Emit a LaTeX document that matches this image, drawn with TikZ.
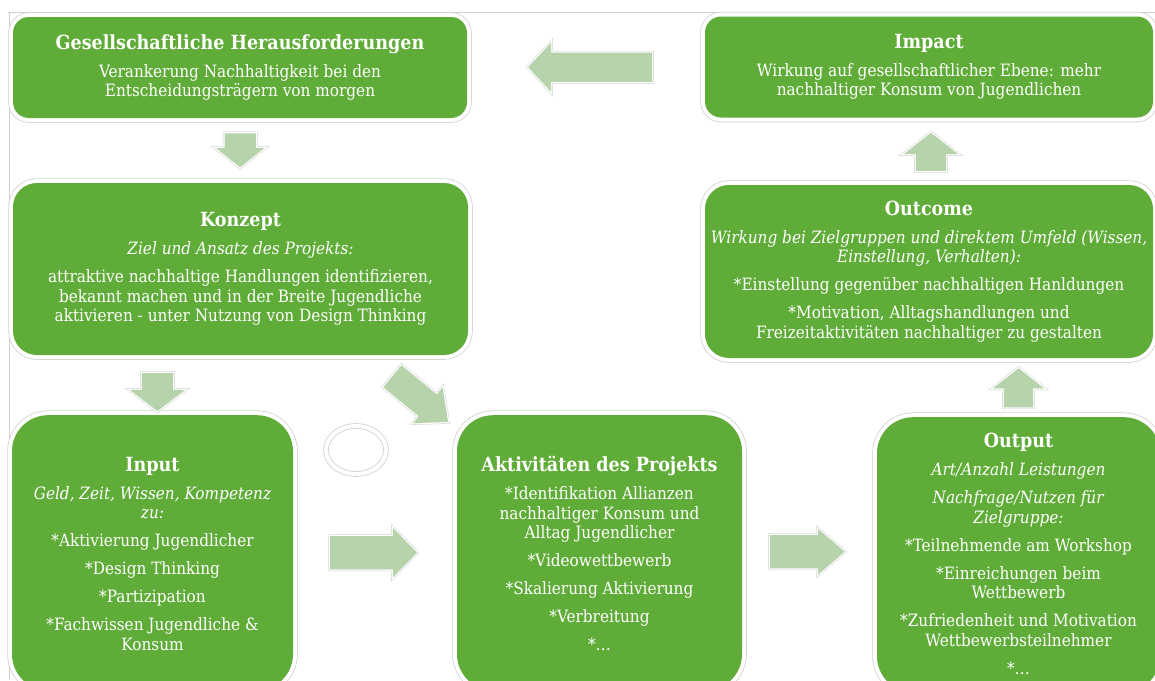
\documentclass[tikz,border=0pt]{standalone}
\usepackage{fontspec}
\setmainfont{DejaVu Serif Condensed}
\usetikzlibrary{positioning,calc,shapes.arrows,shapes.geometric}

\definecolor{boxgreen}{RGB}{96,172,56}
\definecolor{arrowgreen}{RGB}{182,211,171}
\definecolor{framegray}{RGB}{208,208,208}

\newcommand{\bodyfont}{\fontsize{17}{19.5}\selectfont}
\newcommand{\boxtitle}[1]{{\fontsize{19.5}{19.5}\selectfont\bfseries #1}}

\begin{document}
\begin{tikzpicture}[x=1pt, y=-1pt,
	box/.style={rectangle, rounded corners=#1, fill=boxgreen, text=white, align=center,
		inner sep=0pt, font=\bodyfont,
		preaction={draw=framegray, line width=9.5},
		preaction={draw=white, line width=8}},
	box/.default=16,
	txt/.style={text=white, align=center, inner sep=0pt, font=\bodyfont, anchor=north},
	flow/.style={single arrow, fill=arrowgreen, inner xsep=0pt, minimum width=0pt,
		preaction={draw=framegray, line width=3.5},
		preaction={draw=white, line width=2.5}}]

	\fill[white] (0,0) rectangle (1155,680);
	\clip (0,0) rectangle (1155,680);

	% thin frame top and left
	\draw[framegray, line width=0.8] (8,12) -- (1155,12);
	\draw[framegray, line width=0.8] (9,12) -- (9,680);

	% top row
	\node[box, minimum width=454, minimum height=101] (g) at (240,67.5)
		{\boxtitle{Gesellschaftliche Herausforderungen}\\[8.5pt]
		 Verankerung Nachhaltigkeit bei den\\
		 Entscheidungsträgern von morgen};
	\node[box, minimum width=448, minimum height=101] (im) at (929,67)
		{\boxtitle{Impact}\\[8.5pt]
		 Wirkung auf gesellschaftlicher Ebene: mehr\\
		 nachhaltiger Konsum von Jugendlichen};

	% middle row
	\node[box=24, minimum width=455, minimum height=172] (k) at (240.5,269)
		{\boxtitle{Konzept}\\[8.5pt]
		 \textit{Ziel und Ansatz des Projekts:}\\[8.5pt]
		 attraktive nachhaltige Handlungen identifizieren,\\
		 bekannt machen und in der Breite Jugendliche\\
		 aktivieren - unter Nutzung von Design Thinking};
	\node[box=24, minimum width=448, minimum height=173] (oc) at (929,271.5)
		{\boxtitle{Outcome}\\[8.5pt]
		 \textit{Wirkung bei Zielgruppen und direktem Umfeld (Wissen,}\\
		 \textit{Einstellung, Verhalten):}\\[8.5pt]
		 *Einstellung gegenüber nachhaltigen Hanldungen\\[8.5pt]
		 *Motivation, Alltagshandlungen und\\
		 Freizeitaktivitäten nachhaltiger zu gestalten};

	% bottom row, boxes run off the page
	\node[box=36, minimum width=281, minimum height=275, anchor=north] (inp) at (152.5,415) {};
	\node[box=36, minimum width=285, minimum height=275, anchor=north] (akt) at (599.5,415) {};
	\node[box=36, minimum width=283, minimum height=275, anchor=north] (out) at (1018.5,417) {};

	\node[txt] (inptxt) at ([yshift=-42]inp.north)
		{\boxtitle{Input}\\[8.5pt]
		 \textit{Geld, Zeit, Wissen, Kompetenz}\\
		 \textit{zu:}\\[8.5pt]
		 *Aktivierung Jugendlicher\\[8.5pt]
		 *Design Thinking\\[8.5pt]
		 *Partizipation\\[8.5pt]
		 *Fachwissen Jugendliche \&\\
		 Konsum};
	\node[txt] (akttxt) at ([yshift=-41]akt.north)
		{\boxtitle{Aktivitäten des Projekts}\\[8.5pt]
		 *Identifikation Allianzen\\
		 nachhaltiger Konsum und\\
		 Alltag Jugendlicher\\[8.5pt]
		 *Videowettbewerb\\[8.5pt]
		 *Skalierung Aktivierung\\[8.5pt]
		 *Verbreitung\\[8.5pt]
		 *…};
	\node[txt] (outtxt) at ([yshift=-16]out.north)
		{\boxtitle{Output}\\[8.5pt]
		 \textit{Art/Anzahl Leistungen}\\[8.5pt]
		 \textit{Nachfrage/Nutzen für}\\
		 \textit{Zielgruppe:}\\[8.5pt]
		 *Teilnehmende am Workshop\\[8.5pt]
		 *Einreichungen beim\\
		 Wettbewerb\\[8.5pt]
		 *Zufriedenheit und Motivation\\
		 Wettbewerbsteilnehmer\\[8.5pt]
		 *…};

	% empty oval
	\node[ellipse, draw=framegray, double=white, double distance=4, line width=0.8,
		minimum width=60, minimum height=48] (oval) at (356,450) {};

	% block arrows
	\node[flow, rotate=180, minimum height=124, inner ysep=14.5,
		single arrow head extend=10, single arrow tip angle=94]
		(la) at ($(g.east)!0.546!(im.west)$) {};
	\node[flow, rotate=-90, minimum height=34, inner ysep=15.5,
		single arrow head extend=8.5, single arrow tip angle=103]
		(da1) at ($(g.south)!0.4!(k.north)$) {};
	\node[flow, rotate=-90, minimum height=38, inner ysep=15.5,
		single arrow head extend=12, single arrow tip angle=105]
		(da2) at ($($(k.south -| inp.north)!0.517!(inp.north)$)+(5,0)$) {};
	\node[flow, rotate=-39.4, minimum height=72, inner ysep=14,
		single arrow head extend=9, single arrow tip angle=83]
		(dg) at (414,394) {};
	\node[flow, minimum height=87, inner ysep=16.5,
		single arrow head extend=8, single arrow tip angle=91]
		(ra1) at ($($(inp.east)!0.5!(akt.west)$)+(-9.5,0)$) {};
	\node[flow, minimum height=75, inner ysep=16.5,
		single arrow head extend=6, single arrow tip angle=81]
		(ra2) at ($($(akt.east)!0.5!(out.west)$)+(-12,-2)$) {};
	\node[flow, rotate=90, minimum height=39, inner ysep=14.5,
		single arrow head extend=11, single arrow tip angle=104]
		(ua1) at ($($(out.north)!0.5!(out.north |- oc.south)$)+(0,6)$) {};
	\node[flow, rotate=90, minimum height=38, inner ysep=15,
		single arrow head extend=12, single arrow tip angle=104]
		(ua2) at ($($(oc.north)!0.5!(im.south)$)+(2,6.5)$) {};
\end{tikzpicture}
\end{document}
